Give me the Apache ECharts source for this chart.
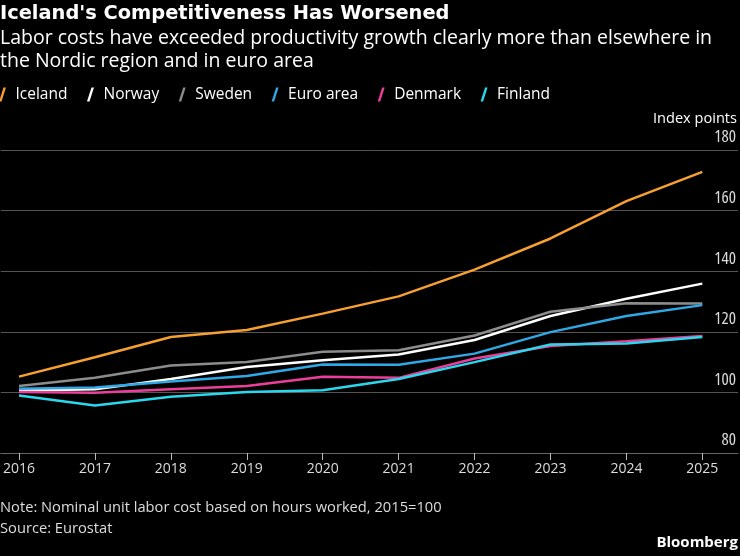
<!DOCTYPE html>
<html>
<head>
<meta charset="utf-8">
<script src="https://cdn.jsdelivr.net/npm/echarts@6/dist/echarts.min.js"></script>
<style>
  html, body { margin: 0; padding: 0; background: #000; }
  #chart { width: 740px; height: 556px; }
</style>
</head>
<body>
<div id="chart"></div>
<script>
// data (index, 2015 = 100)
var years = [2016, 2017, 2018, 2019, 2020, 2021, 2022, 2023, 2024, 2025];
var iceland = [105.2, 111.6, 118.3, 120.6, 126.0, 131.7, 140.5, 150.8, 163.1, 172.8];
var norway = [100.6, 101.0, 104.4, 108.4, 110.6, 112.5, 117.3, 125.2, 130.9, 135.9];
var sweden = [102.1, 104.8, 108.9, 110.0, 113.4, 113.9, 118.8, 126.6, 129.4, 129.3];
var euroArea = [101.2, 101.6, 103.6, 105.4, 109.2, 109.1, 112.8, 119.9, 125.2, 128.8];
var denmark = [100.1, 99.9, 101.0, 102.1, 105.2, 104.8, 111.2, 115.3, 116.9, 118.6];
var finland = [99.0, 95.7, 98.6, 100.1, 100.7, 104.4, 110.0, 115.8, 116.1, 118.3];
var yTicks = [80, 100, 120, 140, 160, 180];

var FONT = "'Open Sans', sans-serif";
var NARROW = "condensed"; // goes into the canvas font string

function pairs(vals) {
  return years.map(function (y, i) { return [y, vals[i]]; });
}

function line(name, vals, color) {
  return {
    name: name,
    type: "line",
    data: pairs(vals),
    symbol: "none",
    lineStyle: { color: color, width: 2.5 },
    itemStyle: { color: color }
  };
}

function txt(color, size, weight, stretch, extra) {
  var s = { color: color, fontSize: size, fontWeight: weight || "normal", fontFamily: FONT };
  if (stretch) s.fontStyle = stretch;
  for (var k in extra) s[k] = extra[k];
  return s;
}

var myChart = echarts.init(document.getElementById("chart"));

var option = {
  backgroundColor: "#000",
  animation: false,
  textStyle: { fontFamily: FONT },
  title: [
    {
      text: "Iceland's Competitiveness Has Worsened",
      left: 0, top: 4,
      padding: 0,
      textStyle: { color: "#fff", fontSize: 19.4, fontWeight: "bold", fontFamily: "'DejaVu Sans', sans-serif" }
    },
    {
      text: "Labor costs have exceeded productivity growth clearly more than elsewhere in\nthe Nordic region and in euro area",
      left: 0, top: 26.5,
      padding: 0,
      textStyle: txt("#fff", 19.5, "normal", null, { lineHeight: 23.5 })
    },
    {
      text: "Index points",
      right: 3, top: 111,
      padding: 0,
      textStyle: txt("#fff", 14.6)
    },
    {
      text: "Note: Nominal unit labor cost based on hours worked, 2015=100\nSource: Eurostat",
      left: 0, top: 497,
      padding: 0,
      textStyle: txt("#ddd", 14.7, "normal", null, { lineHeight: 21 })
    },
    {
      text: "Bloomberg",
      right: 2, top: 535,
      padding: 0,
      textStyle: txt("#fff", 15, "bold")
    }
  ],
  legend: {
    left: -1, top: 86.5,
    padding: 0,
    itemGap: 19.5,
    itemWidth: 16,
    itemHeight: 14,
    icon: "path://M4.5,0 L7,0 L2.5,14 L0,14 Z",
    textStyle: txt("#fff", 15.5)
  },
  grid: { left: 0, right: 2, top: 150, bottom: 103 },
  xAxis: {
    type: "value",
    min: 2015.76,
    max: 2025.47,
    splitLine: { show: false },
    axisLine: { show: true, lineStyle: { color: "#666", width: 1 } },
    axisTick: {
      show: true, length: 7,
      customValues: years,
      lineStyle: { color: "#bbb" }
    },
    axisLabel: Object.assign(txt("#ddd", 14), {
      customValues: years,
      margin: 9,
      formatter: function (v) { return String(v); }
    })
  },
  yAxis: {
    type: "value",
    position: "right",
    min: yTicks[0],
    max: yTicks[yTicks.length - 1],
    interval: 20,
    axisLine: { show: false },
    axisTick: { show: false },
    splitLine: { lineStyle: { color: "#555", width: 1 } },
    axisLabel: Object.assign(txt("#ddd", 17, "normal", NARROW), {
      inside: true,
      margin: 2,
      verticalAlign: "bottom",
      padding: [0, 0, 4, 0]
    })
  },
  series: [
    line("Iceland", iceland, "#f7a030"),
    line("Norway", norway, "#ffffff"),
    line("Sweden", sweden, "#8c8c8c"),
    line("Euro area", euroArea, "#2fa9e6"),
    line("Denmark", denmark, "#ec3f9c"),
    line("Finland", finland, "#2ad8ee")
  ]
};

myChart.setOption(option);

window.addEventListener("resize", function () {
  myChart.resize();
});
</script>
</body>
</html>
